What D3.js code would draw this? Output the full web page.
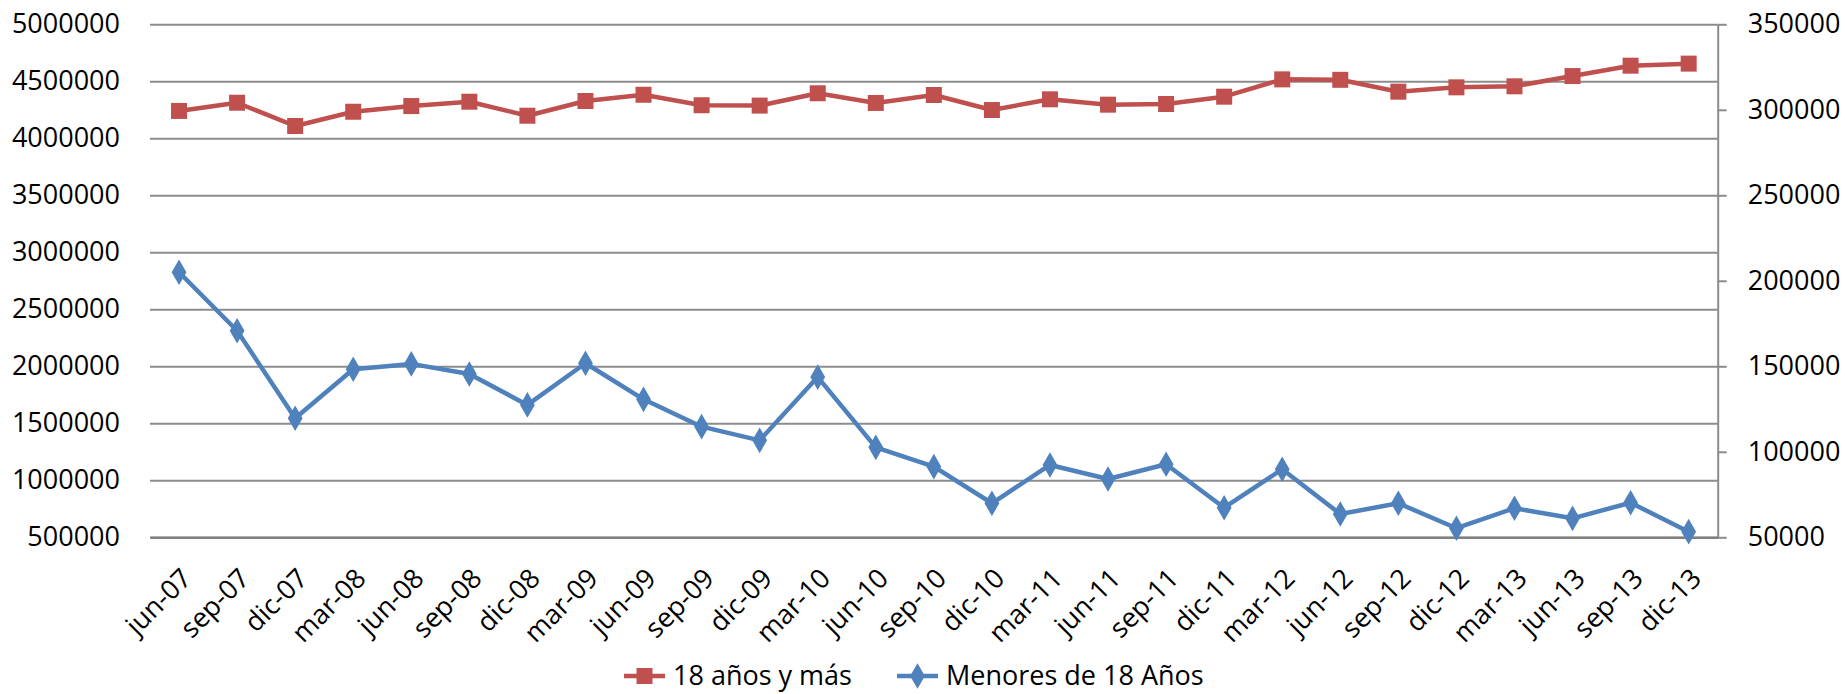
<!DOCTYPE html>
<html><head><meta charset="utf-8">
<script src="https://cdn.jsdelivr.net/npm/d3@7"></script>
<style>body{margin:0;background:#fff} svg{display:block}</style>
</head><body>
<svg id="chart" width="1845" height="694"></svg>
<script>
const categories = ["jun-07","sep-07","dic-07","mar-08","jun-08","sep-08","dic-08","mar-09","jun-09","sep-09","dic-09","mar-10","jun-10","sep-10","dic-10","mar-11","jun-11","sep-11","dic-11","mar-12","jun-12","sep-12","dic-12","mar-13","jun-13","sep-13","dic-13"];
const adults = [4240000,4312000,4108000,4233000,4283000,4321000,4198000,4327000,4382000,4290000,4287000,4395000,4310000,4380000,4248000,4342000,4295000,4301000,4365000,4517000,4513000,4409000,4447000,4456000,4546000,4637000,4655000];
const minors = [205000,170800,119600,148300,151400,145500,127400,151800,130700,114700,106700,143700,102600,91300,69900,92300,84100,92700,67300,89800,63600,69900,55300,67000,61100,70200,53300];
const leftTicks = [500000,1000000,1500000,2000000,2500000,3000000,3500000,4000000,4500000,5000000];
const rightTicks = [50000,100000,150000,200000,250000,300000,350000];
const seriesNames = ["18 años y más","Menores de 18 Años"];
const colors = ["#C0504D","#4F81BD"];

(function(){
const pLeft = 150, pRight = 1717.7, pTop = 24.3, pBottom = 537.3;
const font = "'Open Sans', sans-serif";
const fs = 27;

const svg = d3.select("#chart");
const x = d3.scalePoint().domain(categories).range([pLeft, pRight]).padding(0.5);
const yL = d3.scaleLinear().domain([500000, 5000000]).range([pBottom, pTop]);
const yR = d3.scaleLinear().domain([50000, 350000]).range([pBottom, pTop]);

// left axis with gridlines
const gL = svg.append("g").attr("transform", `translate(${pLeft},0)`)
  .call(d3.axisLeft(yL).tickValues(leftTicks).tickFormat(d3.format("d")).tickSize(-(pRight-pLeft)).tickPadding(30));
gL.select(".domain").remove();
gL.selectAll(".tick line").attr("stroke", "#8C8C8C").attr("stroke-width", 2);
gL.selectAll(".tick text").attr("font-family", font).attr("font-size", fs).attr("fill", "#000");

// right axis
const gR = svg.append("g").attr("transform", `translate(${pRight},0)`)
  .call(d3.axisRight(yR).tickValues(rightTicks).tickFormat(d3.format("d")).tickSize(9).tickSizeOuter(0).tickPadding(21));
gR.select(".domain").attr("stroke", "#8C8C8C").attr("stroke-width", 2);
gR.selectAll(".tick line").attr("stroke", "#8C8C8C").attr("stroke-width", 2);
gR.selectAll(".tick text").attr("font-family", font).attr("font-size", fs).attr("fill", "#000");

// bottom axis line
const gB = svg.append("g").attr("transform", `translate(0,${pBottom})`)
  .call(d3.axisBottom(x).tickSize(0).tickPadding(0));
gB.select(".domain").attr("stroke", "#808080").attr("stroke-width", 2.5);
gB.selectAll(".tick text")
  .attr("font-family", font).attr("font-size", fs).attr("fill", "#000")
  .attr("text-anchor", "end")
  .attr("dy", "0.35em")
  .attr("transform", "translate(7,36) rotate(-45)")
  .attr("y", 0).attr("x", 0);

// lines
const lineL = d3.line().x((d,i) => x(categories[i])).y(d => yL(d));
const lineR = d3.line().x((d,i) => x(categories[i])).y(d => yR(d));

svg.append("path").datum(adults).attr("d", lineL).attr("fill", "none")
  .attr("stroke", colors[0]).attr("stroke-width", 4.5).attr("stroke-linejoin", "round");
svg.append("path").datum(minors).attr("d", lineR).attr("fill", "none")
  .attr("stroke", colors[1]).attr("stroke-width", 4.5).attr("stroke-linejoin", "round");

const sq = d3.symbol().type(d3.symbolSquare).size(256);
const dm = d3.symbol().type(d3.symbolDiamond).size(190);

svg.append("g").selectAll("path").data(adults).join("path")
  .attr("d", sq).attr("fill", colors[0])
  .attr("transform", (d,i) => `translate(${x(categories[i])},${yL(d)})`);
svg.append("g").selectAll("path").data(minors).join("path")
  .attr("d", dm).attr("fill", colors[1])
  .attr("transform", (d,i) => `translate(${x(categories[i])},${yR(d)})`);

// legend
const ly = 676;
const leg = [
  {name: seriesNames[0], color: colors[0], sym: sq, x0: 624},
  {name: seriesNames[1], color: colors[1], sym: dm, x0: 897}
];
leg.forEach(l => {
  const g = svg.append("g");
  g.append("line").attr("x1", l.x0).attr("x2", l.x0 + 41).attr("y1", ly).attr("y2", ly)
    .attr("stroke", l.color).attr("stroke-width", 4.5);
  g.append("path").attr("d", l.sym).attr("fill", l.color)
    .attr("transform", `translate(${l.x0 + 20.5},${ly})`);
  g.append("text").attr("x", l.x0 + 49).attr("y", ly).attr("dy", "0.35em")
    .attr("font-family", font).attr("font-size", fs).attr("fill", "#000").text(l.name);
});
})();
</script>
</body></html>
